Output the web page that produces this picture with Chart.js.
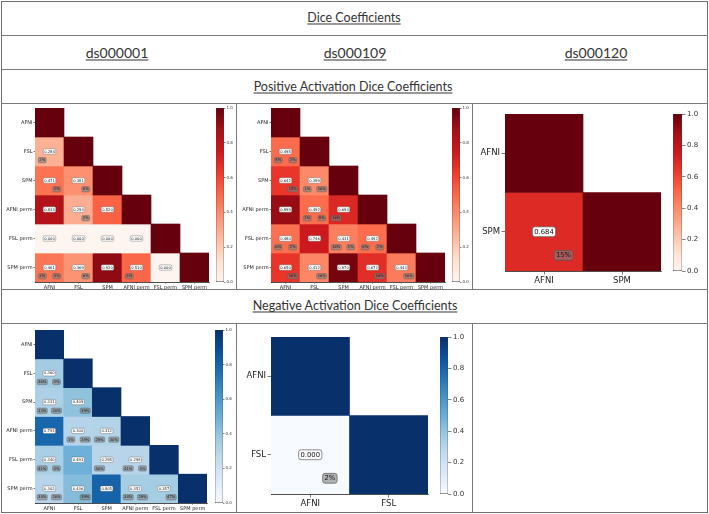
<!DOCTYPE html>
<html lang="en">
<head>
<meta charset="UTF-8" />
<title>Dice Coefficients</title>
<script src="https://cdn.jsdelivr.net/npm/chart.js@4.4.1/dist/chart.umd.min.js"></script>
<style>
  * { margin: 0; padding: 0; box-sizing: border-box; }
  body { width: 709px; height: 514px; background: #fff; overflow: hidden; }
  #page { position: relative; width: 709px; height: 514px; }
  .frame { position: absolute; left: 1px; top: 1px; width: 707px; height: 512px; border: 1.2px solid #6f6f6f; }
  .h, .v { position: absolute; background: #7a7a7a; }
  .h { left: 1px; width: 707px; height: 1.2px; }
  .v { width: 1.2px; }
  .title {
    position: absolute; transform: translate(-50%, -50%); white-space: nowrap;
    font-family: Lato, "Open Sans", sans-serif; color: #333; text-decoration: underline;
    text-underline-offset: 2px; text-decoration-thickness: 1px;
  }
  canvas { position: absolute; display: block; }
</style>
</head>
<body>
<div id="page">
  <div class="frame"></div>
  <div class="h" style="top:35px"></div>
  <div class="h" style="top:69px"></div>
  <div class="h" style="top:103px"></div>
  <div class="h" style="top:289px"></div>
  <div class="h" style="top:323px"></div>
  <div class="v" style="left:236px;top:103px;height:186px"></div>
  <div class="v" style="left:472px;top:103px;height:186px"></div>
  <div class="v" style="left:236px;top:323px;height:190px"></div>
  <div class="v" style="left:472px;top:323px;height:190px"></div>

  <div class="title" style="left:354px;top:17px;font-size:12.5px">Dice Coefficients</div>
  <div class="title" style="left:117px;top:52px;font-size:14px">ds000001</div>
  <div class="title" style="left:355px;top:52px;font-size:14px">ds000109</div>
  <div class="title" style="left:596px;top:52px;font-size:14px">ds000120</div>
  <div class="title" style="left:353px;top:86px;font-size:12.5px">Positive Activation Dice Coefficients</div>
  <div class="title" style="left:355px;top:305px;font-size:12.5px">Negative Activation Dice Coefficients</div>
</div>
<script>
  // software pipelines on the axes
  const names6 = ["AFNI", "FSL", "SPM", "AFNI perm", "FSL perm", "SPM perm"];
  const namesAS = ["AFNI", "SPM"];
  const namesAF = ["AFNI", "FSL"];

  // dice coefficients, lower triangle (row i, column j <= i)
  const ds1PosDice = [
    [1],
    [0.284, 1],
    [0.471, 0.381, 1],
    [0.833, 0.293, 0.520, 1],
    [0.000, 0.000, 0.000, 0.000, 1],
    [0.461, 0.369, 0.920, 0.510, 0.000, 1],
  ];
  const ds1PosLeft = [
    [],
    ["2%"],
    ["", ""],
    ["", "", ""],
    ["", "", "", ""],
    ["3%", "", "", "3%", ""],
  ];
  const ds1PosRight = [
    [],
    [""],
    ["2%", "6%"],
    ["", "2%", ""],
    ["", "", "", ""],
    ["3%", "6%", "", "", ""],
  ];

  const ds109PosDice = [
    [1],
    [0.495, 1],
    [0.642, 0.399, 1],
    [0.899, 0.492, 0.693, 1],
    [0.480, 0.746, 0.431, 0.492, 1],
    [0.650, 0.412, 0.970, 0.672, 0.443, 1],
  ];
  const ds109PosLeft = [
    [],
    ["8%"],
    ["", "1%"],
    ["", "2%", "16%"],
    ["6%", "", "16%", "6%"],
    ["", "", "", "", ""],
  ];
  const ds109PosRight = [
    [],
    ["2%"],
    ["15%", "16%"],
    ["", "8%", ""],
    ["2%", "", "1%", "2%"],
    ["16%", "16%", "", "16%", "16%"],
  ];

  const ds120PosDice = [[1], [0.684, 1]];
  const ds120PosLeft = [[], [""]];
  const ds120PosRight = [[], ["15%"]];

  const ds1NegDice = [
    [1],
    [0.360, 1],
    [0.331, 0.409, 1],
    [0.793, 0.300, 0.312, 1],
    [0.340, 0.493, 0.295, 0.298, 1],
    [0.302, 0.436, 0.805, 0.352, 0.357, 1],
  ];
  const ds1NegLeft = [
    [],
    ["36%"],
    ["33%", ""],
    ["", "1%", "29%"],
    ["41%", "", "40%", "41%"],
    ["34%", "", "", "34%", ""],
  ];
  const ds1NegRight = [
    [],
    ["3%"],
    ["30%", "39%"],
    ["", "39%", "30%"],
    ["3%", "", "", "3%"],
    ["30%", "39%", "", "29%", "47%"],
  ];

  const ds109NegDice = [[1], [0.000, 1]];
  const ds109NegLeft = [[], [""]];
  const ds109NegRight = [[], ["2%"]];

  const cbTicks = [0, 0.2, 0.4, 0.6, 0.8, 1.0];

  const REDS = ["#fff5f0", "#fee0d2", "#fcbba1", "#fc9272", "#fb6a4a", "#ef3b2c", "#cb181d", "#a50f15", "#67000d"];
  const BLUES = ["#f7fbff", "#deebf7", "#c6dbef", "#9ecae1", "#6baed6", "#4292c6", "#2171b5", "#08519c", "#08306b"];

  const page = document.getElementById("page");
  const FONT = "DejaVu Sans";
  const INK = "#222";

  function colormap(stops) {
    const rgb = stops.map((h) => [1, 3, 5].map((k) => parseInt(h.substr(k, 2), 16)));
    return (v) => {
      const t = Math.min(Math.max(v, 0), 1) * (rgb.length - 1);
      const k = Math.min(Math.floor(t), rgb.length - 2);
      const f = t - k;
      const c = rgb[k].map((a, m) => Math.round(a + (rgb[k + 1][m] - a) * f));
      return `rgb(${c.join(",")})`;
    };
  }

  function addCanvas(x, y, w, h) {
    const cv = document.createElement("canvas");
    cv.width = w;
    cv.height = h;
    cv.style.left = x + "px";
    cv.style.top = y + "px";
    cv.style.width = w + "px";
    cv.style.height = h + "px";
    page.appendChild(cv);
    return cv;
  }

  function tag(ctx, text, cx, cy, fill, size) {
    const w = ctx.measureText(text).width + size * 0.55;
    const h = size * 1.45;
    ctx.beginPath();
    ctx.roundRect(cx - w / 2, cy - h / 2, w, h, size * 0.35);
    ctx.fillStyle = fill;
    ctx.fill();
    ctx.lineWidth = Math.max(size / 10, 0.4);
    ctx.strokeStyle = "#555";
    ctx.stroke();
    ctx.fillStyle = "#111";
    ctx.fillText(text, cx, cy + size * 0.05);
  }

  // value box in the cell centre, percentage boxes at the lower corners
  const cellLabels = {
    id: "cellLabels",
    afterDatasetsDraw(chart, args, opts) {
      const { ctx } = chart;
      const x = chart.scales.x, y = chart.scales.y;
      const cw = x.getPixelForValue(1) - x.getPixelForValue(0);
      const ch = Math.abs(y.getPixelForValue(1) - y.getPixelForValue(0));
      ctx.save();
      ctx.font = `${opts.size}px "${FONT}"`;
      ctx.textAlign = "center";
      ctx.textBaseline = "middle";
      opts.dice.forEach((row, i) => {
        row.forEach((v, j) => {
          if (j >= i) return;
          const cx = x.getPixelForValue(j), cy = y.getPixelForValue(i);
          tag(ctx, v.toFixed(3), cx, cy, "#fff", opts.size);
          const l = opts.left[i][j], r = opts.right[i][j];
          if (l) tag(ctx, l, cx - 0.25 * cw, cy + 0.3 * ch, "rgba(128,128,128,0.6)", opts.size);
          if (r) tag(ctx, r, cx + 0.25 * cw, cy + 0.3 * ch, "rgba(128,128,128,0.6)", opts.size);
        });
      });
      ctx.restore();
    },
  };

  function heatmap(g, names, dice, left, right, stops) {
    const cmap = colormap(stops);
    const padT = 10, padR = 10;
    const cv = addCanvas(g.x - g.yW, g.y - padT, g.yW + g.w + padR, padT + g.h + g.xH);
    const n = names.length;
    const axisFont = { family: FONT, size: g.font };
    new Chart(cv, {
      type: "bar",
      data: {
        labels: names,
        datasets: dice.map((row, i) => ({
          data: names.map((_, j) => (j <= i ? [i - 0.5, i + 0.5] : null)),
          backgroundColor: names.map((_, j) => (j <= i ? cmap(row[j]) : "rgba(0,0,0,0)")),
          grouped: false,
          barPercentage: 1,
          categoryPercentage: 1,
          borderWidth: 0,
        })),
      },
      options: {
        responsive: false,
        animation: false,
        layout: { padding: { top: padT, right: padR, left: 0, bottom: 0 } },
        plugins: {
          legend: { display: false },
          tooltip: { enabled: false },
          cellLabels: { dice, left, right, size: g.ann },
        },
        scales: {
          x: {
            grid: { offset: false, drawOnChartArea: false, tickLength: g.tick, color: INK, lineWidth: 0.6 },
            border: { color: INK, width: 0.8 },
            ticks: { font: axisFont, color: INK, padding: g.pad, maxRotation: 0, autoSkip: false },
            afterFit: (s) => { s.height = g.xH; },
          },
          y: {
            reverse: true,
            min: -0.5,
            max: n - 0.5,
            afterBuildTicks: (s) => { s.ticks = names.map((_, i) => ({ value: i })); },
            grid: { drawOnChartArea: false, tickLength: g.tick, color: INK, lineWidth: 0.6 },
            border: { color: INK, width: 0.8 },
            ticks: { font: axisFont, color: INK, padding: g.pad, callback: (v) => names[v] },
            afterFit: (s) => { s.width = g.yW; },
          },
        },
      },
      plugins: [cellLabels],
    });
  }

  function colorbar(g, stops) {
    const padT = 8, padB = 8, padL = 2;
    const cv = addCanvas(g.x - padL, g.y - padT, padL + g.w + g.axW, padT + g.h + padB);
    new Chart(cv, {
      type: "bar",
      data: {
        labels: [""],
        datasets: [{
          data: [[0, 1]],
          backgroundColor: (c) => {
            const a = c.chart.chartArea;
            if (!a) return stops[4];
            const grad = c.chart.ctx.createLinearGradient(0, a.bottom, 0, a.top);
            stops.forEach((s, k) => grad.addColorStop(k / (stops.length - 1), s));
            return grad;
          },
          borderColor: "#333",
          borderWidth: 0.6,
          borderSkipped: false,
          barPercentage: 1,
          categoryPercentage: 1,
        }],
      },
      options: {
        responsive: false,
        animation: false,
        layout: { padding: { top: padT, bottom: padB, left: padL, right: 0 } },
        plugins: { legend: { display: false }, tooltip: { enabled: false } },
        scales: {
          x: { display: false },
          y: {
            position: "right",
            min: 0,
            max: 1,
            afterBuildTicks: (s) => { s.ticks = cbTicks.map((v) => ({ value: v })); },
            grid: { drawOnChartArea: false, tickLength: g.tick, color: "#333", lineWidth: 0.6 },
            border: { display: false },
            ticks: { font: { family: FONT, size: g.font }, color: "#333", padding: g.pad, callback: (v) => v.toFixed(1) },
            afterFit: (s) => { s.width = g.axW; },
          },
        },
      },
    });
  }

  const small = { yW: 35, xH: 12, font: 5, tick: 1.5, pad: 1, ann: 3.7 };
  const big = { yW: 40, xH: 22, font: 8.5, tick: 3.5, pad: 1.5, ann: 6.8 };
  const smallBar = { axW: 16, font: 4, tick: 1.5, pad: 1 };
  const bigBar = { axW: 30, font: 7, tick: 3.5, pad: 1.5 };

  heatmap({ ...small, x: 35, y: 108, w: 174, h: 174 }, names6, ds1PosDice, ds1PosLeft, ds1PosRight, REDS);
  colorbar({ ...smallBar, x: 216, y: 108, w: 8, h: 174 }, REDS);

  heatmap({ ...small, x: 271, y: 108, w: 174, h: 174 }, names6, ds109PosDice, ds109PosLeft, ds109PosRight, REDS);
  colorbar({ ...smallBar, x: 452, y: 108, w: 8, h: 174 }, REDS);

  heatmap({ ...big, x: 505, y: 114, w: 156, h: 157 }, namesAS, ds120PosDice, ds120PosLeft, ds120PosRight, REDS);
  colorbar({ ...bigBar, x: 673, y: 114, w: 9, h: 157 }, REDS);

  heatmap({ ...small, x: 35, y: 330, w: 172, h: 173 }, names6, ds1NegDice, ds1NegLeft, ds1NegRight, BLUES);
  colorbar({ ...smallBar, x: 215, y: 330, w: 8, h: 173 }, BLUES);

  heatmap({ ...big, x: 271, y: 337, w: 157, h: 157 }, namesAF, ds109NegDice, ds109NegLeft, ds109NegRight, BLUES);
  colorbar({ ...bigBar, x: 440, y: 337, w: 8, h: 157 }, BLUES);
</script>
</body>
</html>
